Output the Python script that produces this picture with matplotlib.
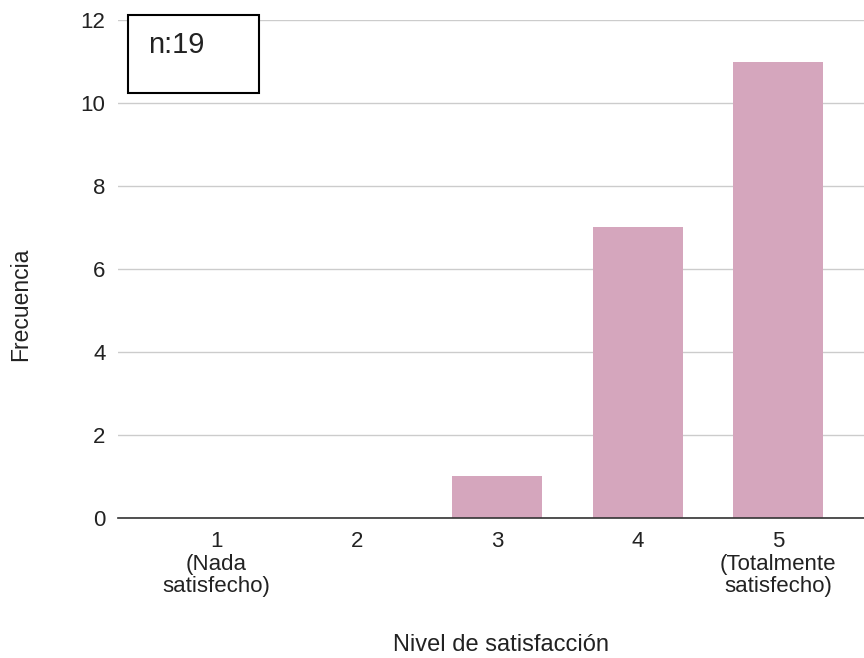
import matplotlib.pyplot as plt
from matplotlib.patches import Rectangle

# Survey answers: satisfaction level vs how many people picked it
niveles = ["1\n(Nada\nsatisfecho)", "2", "3", "4", "5\n(Totalmente\nsatisfecho)"]
frecuencia = [0, 0, 1, 7, 11]
y_ticks = [0, 2, 4, 6, 8, 10, 12]

plt.rcParams['font.family'] = ['Liberation Sans', 'DejaVu Sans']

fig = plt.figure(figsize=(8.64, 6.58), dpi=100)
fig.patch.set_facecolor('white')
ax = fig.add_axes([0.1366, 0.2128, 0.8634, 0.7568])

x = list(range(len(niveles)))
ax.bar(x, frecuencia, width=0.64, color='#d5a6bd', zorder=3)

ax.set_xlim(-0.70, 4.61)
ax.set_ylim(0, 12)
ax.set_yticks(y_ticks)
ax.set_xticks(x)
ax.set_xticklabels(niveles, fontsize=16, color='#222222', linespacing=1.1)
ax.tick_params(axis='y', labelsize=16, colors='#222222', length=0, pad=9)
ax.tick_params(axis='x', length=0, pad=9.5)

ax.grid(axis='y', color='#cccccc', linewidth=1, zorder=0)
for s in ['top', 'right', 'left']:
    ax.spines[s].set_visible(False)
ax.spines['bottom'].set_color('#333333')
ax.spines['bottom'].set_linewidth(1.2)
ax.spines['bottom'].set_zorder(4)

# n box in the top-left corner
box = Rectangle((0.0134, 0.853), 0.1757, 0.157, transform=ax.transAxes,
                facecolor='white', edgecolor='black', linewidth=1.5,
                clip_on=False, zorder=5)
ax.add_patch(box)
ax.text(0.0402, 0.95, "n:19", transform=ax.transAxes, fontsize=21,
        color='#222222', va='center', ha='left', zorder=6)

fig.text(21 / 864, 1 - 304 / 658, "Frecuencia", rotation=90, fontsize=16.5,
         color='#222222', ha='center', va='center')
fig.text(501 / 864, 1 - 645 / 658, "Nivel de satisfacción", fontsize=17,
         color='#222222', ha='center', va='center')

fig.savefig('out.png', dpi=100)
